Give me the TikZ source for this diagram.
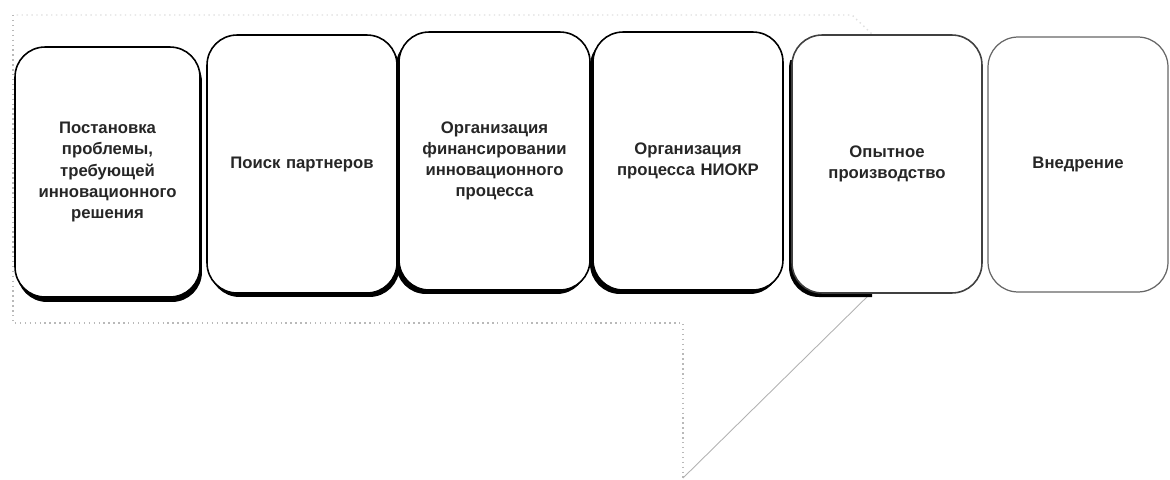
\documentclass[tikz,border=0pt]{standalone}
\usepackage{fontspec}
\setmainfont{Liberation Sans}
\begin{document}
\begin{tikzpicture}[x=0.02cm,y=-0.02cm,
  stepbox/.style={draw=black, fill=white, line width=0.9pt, rounded corners=0.6cm,
    inner sep=0pt, outer sep=0pt, align=center, text width=3.2cm, text=black!85,
    font=\fontsize{9.5}{12}\selectfont\bfseries},
  shad/.style 2 args={preaction={draw=none, fill=black, transform canvas={xshift=#1, yshift=#2}}},
  outline/.style={draw=gray!55, line width=0.8pt, dotted}
]
\useasboundingbox (0,0) rectangle (1170,480);
% background callout
\coordinate (tl) at (13,15);
\coordinate (tr) at (852,15);
\coordinate (tk) at (875,37);
\coordinate (rk) at (872,292);
\coordinate (tip) at (683,478);
\coordinate (bk) at (683,323);
\coordinate (bl) at (13,323);
\draw[draw=gray!25, line width=0.8pt, dotted] (tk) -- (tr) -- (tl);
\draw[outline] (tl) -- (bl) -- (bk) -- (tip);
\draw[gray!60, line width=0.5pt] (tip) -- (rk);
% boxes
\node[stepbox, shad={0.04cm}{-0.1cm}, minimum width=3.7cm, minimum height=5.0cm] (b1) at (107.5,172)
  {Постановка\\проблемы,\\требующей\\инновационного\\решения};
\node[stepbox, shad={0.05cm}{-0.08cm}, minimum width=3.8cm, minimum height=5.16cm] (b2) at (302,164)
  {Поиск партнеров};
\node[stepbox, shad={-0.06cm}{-0.08cm}, minimum width=3.82cm, minimum height=5.16cm] (b3) at (494.5,161)
  {Организация\\финансировании\\инновационного\\процесса};
\node[stepbox, shad={-0.06cm}{-0.08cm}, minimum width=3.8cm, minimum height=5.16cm] (b4) at (688,161)
  {Организация\\процесса НИОКР};
\begin{scope}
  \clip (780,60) rectangle (872,480);
  \fill[black, rounded corners=0.6cm] (789,39) rectangle (979,297);
\end{scope}
\node[stepbox, draw=black!75, minimum width=3.8cm, minimum height=5.16cm] (b5) at (887,164)
  {Опытное\\производство};
\node[stepbox, draw=black!60, line width=0.7pt, minimum width=3.6cm, minimum height=5.1cm] (b6) at (1078,164.5)
  {Внедрение};
\end{tikzpicture}
\end{document}
